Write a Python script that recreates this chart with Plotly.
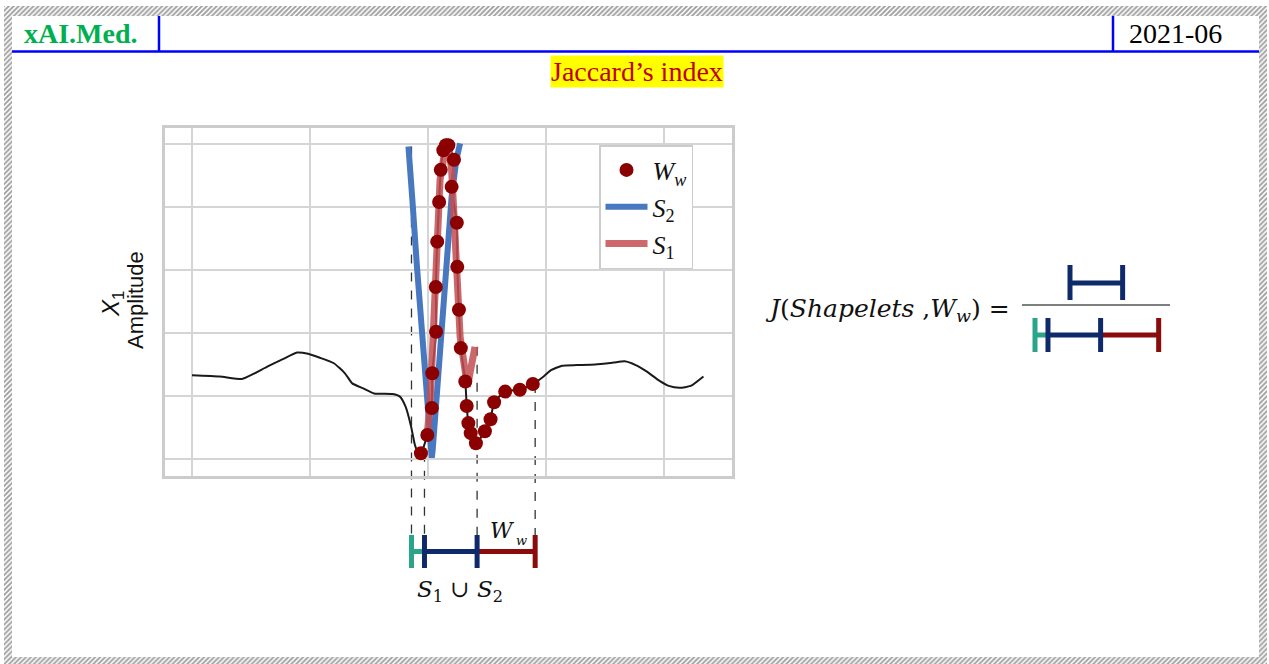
import plotly.graph_objects as go

W, H = 1269, 664

# ---------------- data ----------------
signal_x = [0, 11.8, 21.2, 26.0, 32.1, 38.3, 44.5, 49.2, 53.9, 60.1, 64.8, 67.9, 72.6, 77.2, 85.0, 88.1,
            90.5, 92.8, 94.4, 95.9,
            97.0, 99.7, 101.6, 101.8, 103.4, 103.3, 103.9, 104.7, 105.4, 106.5, 107.6, 108.6, 111.0, 110.0,
            112.2, 112.4, 113.1, 113.9, 115.8, 116.4, 117.1, 118.1, 120.3, 124.1, 126.5, 128.0, 132.7, 138.9,
            144.4,
            149.0, 152.1, 156.8, 163.0, 170.8, 178.6, 183.3, 188.0, 192.6, 197.3, 202.0, 206.6, 211.3, 216.7]
signal_y = [1.33, 1.31, 1.27, 1.35, 1.47, 1.58, 1.69, 1.67, 1.61, 1.52, 1.36, 1.20, 1.12, 1.04, 1.03, 0.99,
            0.83, 0.52, 0.23, 0.09,
            0.09, 0.38, 0.81, 1.36, 2.02, 2.73, 3.45, 4.08, 4.59, 4.90, 4.98, 4.98, 4.75, 4.32,
            3.75, 3.05, 2.37, 1.76, 1.23, 0.84, 0.57, 0.41, 0.25, 0.44, 0.63, 0.90, 1.07, 1.10,
            1.19,
            1.31, 1.41, 1.48, 1.49, 1.50, 1.53, 1.55, 1.49, 1.39, 1.26, 1.16, 1.13, 1.16, 1.31]

ww_x = [97.0, 99.7, 101.6, 101.8, 103.4, 103.3, 103.9, 104.7, 105.4, 106.5, 107.6, 108.6, 111.0, 110.0,
        112.2, 112.4, 113.1, 113.9, 115.8, 116.4, 117.1, 118.1, 120.3, 124.1, 126.5, 128.0, 132.7, 138.9, 144.4]
ww_y = [0.09, 0.38, 0.81, 1.36, 2.02, 2.73, 3.45, 4.08, 4.59, 4.90, 4.98, 4.98, 4.75, 4.32,
        3.75, 3.05, 2.37, 1.76, 1.23, 0.84, 0.57, 0.41, 0.25, 0.44, 0.63, 0.90, 1.07, 1.10, 1.19]

s2_x = [91.7, 92.4, 93.4, 95.2, 97.3, 99.4, 101.2, 101.6, 102.0, 103.7, 105.8, 107.9, 110.0, 112.0, 113.6]
s2_y = [4.96, 4.65, 4.10, 3.11, 2.05, 0.99, 0.15, 0.02, 0.15, 0.99, 2.05, 3.11, 4.16, 4.75, 5.01]

s1_x = [99.4, 100.8, 102.3, 103.7, 105.1, 107.2, 108.6, 110.0, 111.4, 112.4, 113.6, 115.7, 116.7, 119.9]
s1_y = [0.30, 0.83, 2.05, 3.48, 4.43, 4.90, 4.98, 4.59, 3.74, 2.84, 1.94, 1.31, 1.15, 1.78]

interval_edges = [93.0, 98.5, 120.8, 145.4]     # S2 start, Ww start, S1 end, Ww end
edge_tops = [4.96, 0.10, 1.78, 1.19]

grid_x = [0, 50, 100, 150, 200]
grid_y = [0, 1, 2, 3, 4, 5]

legend_labels = ["<i>W<sub>w</sub></i>", "<i>S</i><sub>2</sub>", "<i>S</i><sub>1</sub>"]

# ---------------- layout constants ----------------
X_RANGE = [-11.44, 228.8]
Y_RANGE = [-0.27, 5.254]
PL, PR, PT, PB = 165, 732, 128, 476

TEAL, NAVY, DRED = "#2aa58a", "#0f2a6b", "#8b0a0a"
SERIF = "Liberation Serif"
MATH = "DejaVu Serif"


def ypx(v):
    return PB - (v - Y_RANGE[0]) / (Y_RANGE[1] - Y_RANGE[0]) * (PB - PT)


k = (PR - PL) / (X_RANGE[1] - X_RANGE[0])  # pixels per data unit

fig = go.Figure()

# hatched page frame
rects = [(4, 6, 1267, 16), (4, 657, 1267, 664), (4, 6, 12, 664), (1259, 6, 1267, 664)]
fx, fy = [], []
for x0, y0, x1, y1 in rects:
    fx += [x0, x1, x1, x0, x0, None]
    fy += [y0, y0, y1, y1, y0, None]
fig.add_trace(go.Scatter(x=fx, y=fy, xaxis="x2", yaxis="y2", mode="none", fill="toself",
                         fillcolor="rgba(0,0,0,0)",
                         fillpattern=dict(shape="/", fgcolor="#444444", bgcolor="white", size=3.5, solidity=0.55),
                         showlegend=False, hoverinfo="skip"))

# data traces
fig.add_trace(go.Scatter(x=signal_x, y=signal_y, mode="lines",
                         line=dict(color="#1a1a1a", width=2, shape="spline", smoothing=0.5),
                         showlegend=False, hoverinfo="skip"))
fig.add_trace(go.Scatter(x=s2_x, y=s2_y, mode="lines", line=dict(color="#4878bf", width=6),
                         name=legend_labels[1], legendrank=2))
fig.add_trace(go.Scatter(x=s1_x, y=s1_y, mode="lines", line=dict(color="#c44e52", width=7), opacity=0.85,
                         name=legend_labels[2], legendrank=3))
fig.add_trace(go.Scatter(x=ww_x, y=ww_y, mode="markers", marker=dict(color="#8b0000", size=14),
                         name=legend_labels[0], legendrank=1))

shapes = []
# header lines
for (x0, y0, x1, y1) in [(12, 51.5, 1259, 51.5), (159, 16, 159, 52), (1113, 16, 1113, 52)]:
    shapes.append(dict(type="line", xref="x2", yref="y2", x0=x0, y0=y0, x1=x1, y1=y1,
                       line=dict(color="#0000ff", width=2.5)))

# dashed guide lines
for xe, yt in zip(interval_edges, edge_tops):
    shapes.append(dict(type="line", xref="x", yref="y2", x0=xe, x1=xe, y0=ypx(yt), y1=540,
                       line=dict(color="#333333", width=1.3, dash="dash"), layer="below"))

# interval bars under the plot
BAR_Y, T0, T1 = 551.5, 535, 568
seg_cols = [TEAL, NAVY, DRED]
for i in range(3):
    shapes.append(dict(type="line", xref="x", yref="y2", x0=interval_edges[i], x1=interval_edges[i + 1],
                       y0=BAR_Y, y1=BAR_Y, line=dict(color=seg_cols[i], width=5)))
tick_cols = [TEAL, NAVY, NAVY, DRED]
for xe, c in zip(interval_edges, tick_cols):
    shapes.append(dict(type="line", xref="x", yref="y2", x0=xe, x1=xe, y0=T0, y1=T1,
                       line=dict(color=c, width=5)))

# formula bars
shapes.append(dict(type="line", xref="x2", yref="y2", x0=1022, x1=1170, y0=305, y1=305,
                   line=dict(color="#555555", width=1.5)))
NUM_L = 1070
num_r = NUM_L + (interval_edges[2] - interval_edges[1]) * k
shapes.append(dict(type="line", xref="x2", yref="y2", x0=NUM_L, x1=num_r, y0=283, y1=283,
                   line=dict(color=NAVY, width=5)))
for xx in (NUM_L, num_r):
    shapes.append(dict(type="line", xref="x2", yref="y2", x0=xx, x1=xx, y0=265, y1=300,
                       line=dict(color=NAVY, width=5)))
DEN_L = 1035
den = [DEN_L + (e - interval_edges[0]) * k for e in interval_edges]
for i in range(3):
    shapes.append(dict(type="line", xref="x2", yref="y2", x0=den[i], x1=den[i + 1], y0=335, y1=335,
                       line=dict(color=seg_cols[i], width=5)))
for xx, c in zip(den, tick_cols):
    shapes.append(dict(type="line", xref="x2", yref="y2", x0=xx, x1=xx, y0=318, y1=352,
                       line=dict(color=c, width=5)))

ann = []


def txt(x, y, text, size, color="black", family=SERIF, xanchor="center", angle=0, **kw):
    ann.append(dict(x=x, y=y, xref="x2", yref="y2", text=text, showarrow=False, xanchor=xanchor,
                    yanchor="middle", textangle=angle, font=dict(family=family, size=size, color=color), **kw))


txt(22, 33, "<b>xAI.Med.</b>", 28, "#00b050", xanchor="left")
txt(1127, 33, "2021-06", 28, xanchor="left")
txt(636.5, 71, "Jaccard’s index", 28, "#c00000", bgcolor="#ffff00", borderpad=0)
txt(135, 300, "Amplitude", 22, "#111111", family="Liberation Sans", angle=-90)
txt(112, 304, "<i>X</i><sub>1</sub>", 24, "#111111", family="Liberation Sans", angle=-90)
txt(502, 530, "<i>W</i>", 22, "#111111", family=MATH)
txt(521, 540, "<i>w</i>", 13, "#111111", family=MATH)
txt(460, 591, "<i>S</i><sub>1</sub> ∪ <i>S</i><sub>2</sub>", 23, "#111111", family=MATH)
txt(763, 310, "<i>J</i>(<i>Shapelets</i> ,<i>W</i><sub><i>w</i></sub>) =", 25, "#111111",
    family=MATH, xanchor="left")

axis_common = dict(showticklabels=False, ticks="", showgrid=True, gridcolor="#d5d5d5", gridwidth=2,
                   zeroline=False, showline=True, mirror=True, linecolor="#cccccc", linewidth=3)

fig.update_layout(
    width=W, height=H, margin=dict(l=0, r=0, t=0, b=0),
    paper_bgcolor="white", plot_bgcolor="rgba(0,0,0,0)",
    xaxis=dict(domain=[PL / W, PR / W], range=X_RANGE, tickvals=grid_x, anchor="y", **axis_common),
    yaxis=dict(domain=[1 - PB / H, 1 - PT / H], range=Y_RANGE, tickvals=grid_y, anchor="x", **axis_common),
    xaxis2=dict(domain=[0, 1], range=[0, W], visible=False, anchor="y2", fixedrange=True),
    yaxis2=dict(domain=[0, 1], range=[H, 0], visible=False, anchor="x2", fixedrange=True),
    showlegend=True,
    legend=dict(x=599 / W, y=1 - 145 / H, xanchor="left", yanchor="top", bgcolor="white",
                bordercolor="#cccccc", borderwidth=1.5, font=dict(family=SERIF, size=26, color="#111111"),
                itemwidth=42, entrywidth=78, entrywidthmode="pixels"),
    shapes=shapes, annotations=ann,
)

fig.write_html("out.html", config={"displayModeBar": False},
               post_script="document.body.style.margin='0';document.body.style.overflow='hidden';")
